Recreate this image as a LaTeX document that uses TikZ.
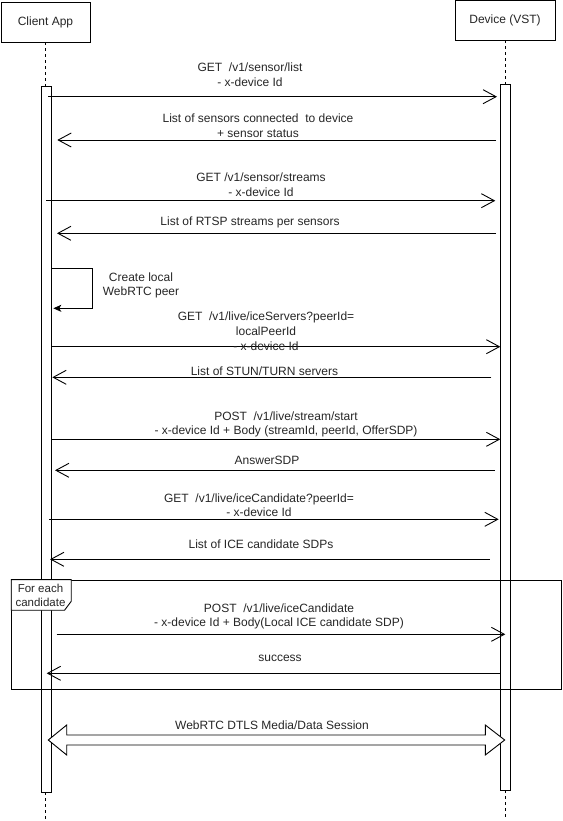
\documentclass[tikz,border=0pt]{standalone}
\usepackage{fontspec}
\setmainfont{Liberation Sans}
\usetikzlibrary{arrows.meta, positioning}

\begin{document}
\begin{tikzpicture}[
    x=1pt, y=-1pt,
    font=\fontsize{12}{14.6}\selectfont,
    text=black!85,
    actor/.style={rectangle, draw, line width=0.9pt, fill=white, minimum height=40pt, inner sep=0pt, align=center, font=\fontsize{12}{14}\selectfont},
    lifeline/.style={draw, line width=0.9pt, dash pattern=on 3pt off 3pt},
    activation/.style={rectangle, draw, line width=0.9pt, fill=white, minimum width=10pt, inner sep=0pt},
    msg/.style={draw, line width=0.9pt, -{Straight Barb[length=13pt, width=14pt, line width=0.9pt]}},
    selfmsg/.style={draw, line width=0.9pt, -{Stealth[length=8pt, width=7pt, inset=2pt]}},
    lbl/.style={align=center, inner sep=0pt},
    loopframe/.style={rectangle, draw, line width=0.9pt, inner sep=0pt}
]
\useasboundingbox (0,0) rectangle (562,821);

% Participants
\node[actor, minimum width=89pt] (client) at (45.5,22) {Client App};
\node[actor, minimum width=100pt] (device) at (505,20) {Device (VST)};

% Lifelines and activations
\draw[lifeline] (client.south) -- (client.south |- 0,819);
\draw[lifeline] (device.south) -- (device.south |- 0,818);
\node[activation, minimum height=705.7pt] (cbar) at (46.3,439.8) {};
\node[activation, minimum height=706pt] (dbar) at (505.7,437.3) {};

% Loop fragment
\node[loopframe, minimum width=549.3pt, minimum height=109pt] (loop) at (286.35,634.5) {};
\draw[line width=0.9pt, fill=white] (loop.north west) -- ++(60,0) -- ++(0,21.7) -- ++(-6.7,9) -- ++(-53.3,0) -- cycle;
\node[lbl, font=\fontsize{11.5}{14.6}\selectfont] (looplbl) at (40.5,595.4) {For each\\candidate};

% Message end points
\coordinate (m1a) at (48,96.7);     \coordinate (m1b) at (497,96.7);
\coordinate (m2a) at (496,140);     \coordinate (m2b) at (57.3,140);
\coordinate (m3a) at (46,200.7);    \coordinate (m3b) at (495.3,200.7);
\coordinate (m4a) at (496,233.3);   \coordinate (m4b) at (57,233.3);
\coordinate (m5a) at (51.3,268.3);  \coordinate (m5b) at (53.3,308.3);
\coordinate (m6a) at (51.3,346.7);  \coordinate (m6b) at (500.3,346.7);
\coordinate (m7a) at (491.3,377.3); \coordinate (m7b) at (52.3,377.3);
\coordinate (m8a) at (51.3,439.3);  \coordinate (m8b) at (500.3,439.3);
\coordinate (m9a) at (494.7,470.3); \coordinate (m9b) at (55,470.3);
\coordinate (m10a) at (49.3,519.3); \coordinate (m10b) at (498.7,519.3);
\coordinate (m11a) at (489.7,559.3);\coordinate (m11b) at (50,559.3);
\coordinate (m12a) at (56.7,634.3); \coordinate (m12b) at (505.3,634.3);
\coordinate (m13a) at (500.3,673.3);\coordinate (m13b) at (46.7,673.3);
\coordinate (sessL) at (48.3,740);

% Messages
\draw[msg] (m1a) -- (m1b);
\draw[msg] (m2a) -- (m2b);
\draw[msg] (m3a) -- (m3b);
\draw[msg] (m4a) -- (m4b);
\draw[selfmsg] (m5a) -- (92.3,268.3) -- (92.3,308.3) -- (m5b);
\draw[msg] (m6a) -- (m6b);
\draw[msg] (m7a) -- (m7b);
\draw[msg] (m8a) -- (m8b);
\draw[msg] (m9a) -- (m9b);
\draw[msg] (m10a) -- (m10b);
\draw[msg] (m11a) -- (m11b);
\draw[msg] (m12a) -- (m12b);
\draw[msg] (m13a) -- (m13b);

% Media session
\draw[line width=0.9pt, fill=white] (sessL) -- ++(18.4,-15) -- ++(0,10) -- ++(418.6,0) -- ++(0,-10)
    -- ++(19.4,15) -- ++(-19.4,15) -- ++(0,-10) -- ++(-418.6,0) -- ++(0,10) -- cycle;

% Labels
\node[lbl] (getlist) at (250,74.5) {GET\ \ /v1/sensor/list\\- x-device Id};
\node[lbl] (sensors) at (258,125.5) {List of sensors connected\ \ to device\\+ sensor status};
\node[lbl] (getstreams) at (261,185) {GET /v1/sensor/streams\\- x-device Id};
\node[lbl] (streams) at (250,222.3) {List of RTSP streams per sensors};
\node[lbl] (peer) at (141,285.2) {Create local\\WebRTC peer};
\node[lbl] (getice) at (266,331.2) {GET\ \ /v1/live/iceServers?peerId=\\localPeerId\\- x-device Id};
\node[lbl] (servers) at (264.5,371.7) {List of STUN/TURN servers};
\node[lbl] (start) at (286,424.2) {POST\ \ /v1/live/stream/start\\- x-device Id + Body (streamId, peerId, OfferSDP)};
\node[lbl] (answer) at (267,460.7) {AnswerSDP};
\node[lbl] (getcand) at (259,505.2) {GET\ \ /v1/live/iceCandidate?peerId=\\- x-device Id};
\node[lbl] (cands) at (261,544) {List of ICE candidate SDPs};
\node[lbl] (postcand) at (279,616.2) {POST\ \ /v1/live/iceCandidate\\- x-device Id + Body(Local ICE candidate SDP)};
\node[lbl] (success) at (280,658.3) {success};
\node[lbl] (session) at (272,725) {WebRTC DTLS Media/Data Session};

\end{tikzpicture}
\end{document}
